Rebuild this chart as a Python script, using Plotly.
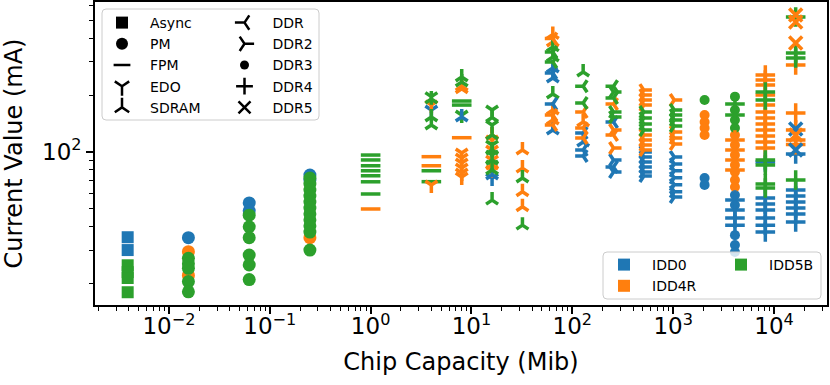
import plotly.graph_objects as go

# ─── Data (capacity in Mib, current in mA) ─────────────────────────────
# one entry per capacity column, one list of readings per IDD current
ASYNC_CAP = [0.0039]
ASYNC_IDD0 = [[35.1, 30.0]]
ASYNC_IDD4R = [[]]
ASYNC_IDD5B = [[24.9, 22.9, 21.3, 17.9]]

PM_CAP = [0.0156, 0.0625, 0.25]
PM_IDD0 = [[34.9], [53.4, 48.5], [75.2, 70.7]]
PM_IDD4R = [[29.4, 22.0], [], [34.9]]
PM_IDD5B = [[27.1, 25.4, 24.0, 20.4, 18.0],
            [46.0, 39.9, 34.9, 28.2, 25.0, 20.9],
            [72.4, 67.3, 62.5, 58.1, 54.0, 50.2, 46.7, 43.4, 40.3, 37.4, 30.0]]

FPM_CAP = [1, 4, 8]
FPM_IDD0 = [[], [], []]
FPM_IDD4R = [[49.6], [94.1, 84.2], [118.7]]
FPM_IDD5B = [[96.0, 90.4, 84.2, 79.2, 74.5, 69.2, 59.6], [79.2, 69.3], [186.0, 177.0]]

EDO_CAP = [4, 8, 16]
EDO_IDD0 = [[166.8], [], [72.5]]
EDO_IDD4R = [[177.0, 66.5], [98.4, 92.6, 87.1, 81.9, 77.1, 73.4], [115.4, 102.1, 90.3, 79.9]]
EDO_IDD5B = [[196.2], [156.7], [166.7, 138.7, 108.6, 96.0, 84.9]]

SDRAM_CAP = [4, 8, 16, 32, 64, 128]
SDRAM_IDD0 = [[], [153.0], [75.2], [], [278.6, 246.7, 130.4], [112.6]]
SDRAM_IDD4R = [[], [223.0, 216.0], [122.7, 84.9], [102.1, 81.8, 61.3, 51.0],
               [420, 383, 166.8, 147.4], [143.9]]
SDRAM_IDD5B = [[190.6, 153.0, 138.8], [249.6, 235.0], [152.0, 122.7, 102.1, 90.3, 79.9, 55.3],
               [72.5, 40.7], [361, 319, 202.7], [265.6]]

DDR_CAP = [64, 128, 256]
DDR_IDD0 = [[262.2, 179.4], [125.8, 102.1, 94.9], [143.9, 82.9]]
DDR_IDD4R = [[400, 156.8, 138.7], [162.6, 133.7, 118.3], [179.4, 122.7]]
DDR_IDD5B = [[339, 300], [223, 181.6], [223, 193]]

DDR2_CAP = [256, 512, 1024]
DDR2_IDD0 = [[90.3, 78.0], [99.6, 93.7, 88.2, 83.0, 78.0, 74.3],
             [93.7, 86.1, 79.1, 72.6, 66.7, 61.2, 57.5]]
DDR2_IDD4R = [[130.4, 104.7], [212.6, 200.3, 188.4, 177.1, 122.7, 115.4, 108.6, 102.1],
              [188.4, 127.3, 118.3, 109.9]]
DDR2_IDD5B = [[207.8, 162.6, 153], [162.6, 151.0, 140.4, 130.4], [166.8, 156.8, 147.4, 137.0]]

DDR3_CAP = [2048, 4096]
DDR3_IDD0 = [[72.5, 66.6], [58.9, 52.1, 36.0, 31.9, 29.3]]
DDR3_IDD4R = [[156.8, 143.9, 133.7, 122.7], [122.7, 108.6, 96.0, 84.9, 78.0, 70.7, 64.9]]
DDR3_IDD5B = [[188.4], [196.2, 166.8, 147.4, 133.7]]

DDR4_CAP = [4096, 8192, 16384]
DDR4_IDD0 = [[55.3, 49.0, 44.4, 40.7],
             [88.2, 56.7, 52.7, 49.0, 44.4, 40.7, 37.4],
             [97.2, 62.5, 58.1, 54.0, 50.2, 46.7, 42.3]]
DDR4_IDD4R = [[115.4, 102.1, 90.3, 79.9],
              [256, 240.6, 226.3, 200.4, 177.1, 162.6, 151.0, 140.4, 130.4, 121.2, 112.6, 104.7],
              [289, 160.6, 130.4, 115.4, 109.1]]
DDR4_IDD5B = [[179.4, 156.8], [207.8, 188.4, 90.3, 84.9, 67.3, 64.1], [520, 335, 315, 70.7]]

DDR5_CAP = [16384]
DDR5_IDD0 = [[132.1, 102.1]]
DDR5_IDD4R = [[533, 490, 378.6, 122.7]]
DDR5_IDD5B = [[]]

CURRENTS = ["IDD0", "IDD4R", "IDD5B"]
COLORS = {"IDD0": "#1f77b4", "IDD4R": "#ff7f0e", "IDD5B": "#2ca02c"}

TYPES = [
    # name, capacities, per-current readings, symbol, size, line width, legend size
    ("Async", ASYNC_CAP, [ASYNC_IDD0, ASYNC_IDD4R, ASYNC_IDD5B], "square", 12, 0, 12),
    ("PM", PM_CAP, [PM_IDD0, PM_IDD4R, PM_IDD5B], "circle", 13, 0, 12),
    ("FPM", FPM_CAP, [FPM_IDD0, FPM_IDD4R, FPM_IDD5B], "line-ew", 14, 3.5, 12),
    ("EDO", EDO_CAP, [EDO_IDD0, EDO_IDD4R, EDO_IDD5B], "y-down", 10, 3.5, 12),
    ("SDRAM", SDRAM_CAP, [SDRAM_IDD0, SDRAM_IDD4R, SDRAM_IDD5B], "y-up", 10, 3.5, 12),
    ("DDR", DDR_CAP, [DDR_IDD0, DDR_IDD4R, DDR_IDD5B], "y-left", 10, 3.5, 12),
    ("DDR2", DDR2_CAP, [DDR2_IDD0, DDR2_IDD4R, DDR2_IDD5B], "y-right", 10, 3.5, 12),
    ("DDR3", DDR3_CAP, [DDR3_IDD0, DDR3_IDD4R, DDR3_IDD5B], "circle", 10, 0, 9),
    ("DDR4", DDR4_CAP, [DDR4_IDD0, DDR4_IDD4R, DDR4_IDD5B], "cross-thin", 14, 3.5, 12),
    ("DDR5", DDR5_CAP, [DDR5_IDD0, DDR5_IDD4R, DDR5_IDD5B], "x-thin", 13, 3.5, 12),
]

XTICKS = [1e-2, 1e-1, 1e0, 1e1, 1e2, 1e3, 1e4]
XTICK_TEXT = ["10<sup>−2</sup>", "10<sup>−1</sup>", "10<sup>0</sup>", "10<sup>1</sup>",
              "10<sup>2</sup>", "10<sup>3</sup>", "10<sup>4</sup>"]
YTICKS = [1e2]
YTICK_TEXT = ["10<sup>2</sup>"]

# ─── Layout geometry (pixels) ──────────────────────────────────────────
W, H = 830, 385
L, R, T, B = 95, 3, 2, 80
PW, PH = W - L - R, H - T - B
FONT = "DejaVu Sans"


def px_x(x):
    return (x - L) / PW


def px_y(y):
    return (H - B - y) / PH


def rounded_box(x0, y0, x1, y1, r=4):
    """Rounded rectangle path in paper coords from pixel corners."""
    rx, ry = r / PW, r / PH
    a, b, c, d = px_x(x0), px_y(y1), px_x(x1), px_y(y0)
    return (f"M{a + rx},{b} L{c - rx},{b} Q{c},{b} {c},{b + ry} "
            f"L{c},{d - ry} Q{c},{d} {c - rx},{d} L{a + rx},{d} "
            f"Q{a},{d} {a},{d - ry} L{a},{b + ry} Q{a},{b} {a + rx},{b} Z")


fig = go.Figure()

# data points
for name, caps, readings, symbol, size, lw, _ in TYPES:
    for cur, series in zip(CURRENTS, readings):
        xs, ys = [], []
        for cap, vals in zip(caps, series):
            xs += [cap] * len(vals)
            ys += vals
        if not xs:
            continue
        fig.add_trace(go.Scatter(
            x=xs, y=ys, mode="markers", showlegend=False,
            marker=dict(symbol=symbol, size=size, color=COLORS[cur],
                        line=dict(width=lw, color=COLORS[cur])),
            hovertemplate=f"{name} {cur}: %{{y}} mA<extra></extra>",
        ))

# legend entries: memory types (two columns) and currents (two columns)
for i, (name, _, _, symbol, _, lw, lsize) in enumerate(TYPES):
    fig.add_trace(go.Scatter(
        x=[None], y=[None], mode="markers", name=name,
        legend="legend" if i < 5 else "legend2",
        marker=dict(symbol=symbol, size=lsize, color="black",
                    line=dict(width=min(lw, 2.5), color="black")),
    ))
for i, cur in enumerate(CURRENTS):
    fig.add_trace(go.Scatter(
        x=[None], y=[None], mode="markers", name=cur,
        legend="legend3" if i < 2 else "legend4",
        marker=dict(symbol="square", size=12, color=COLORS[cur]),
    ))

legend_common = dict(bgcolor="rgba(0,0,0,0)", borderwidth=0, itemwidth=46,
                     font=dict(family=FONT, size=14, color="black"),
                     xanchor="left", yanchor="top", traceorder="normal")

fig.update_layout(
    width=W, height=H,
    margin=dict(l=L, r=R, t=T, b=B, autoexpand=False),
    paper_bgcolor="white", plot_bgcolor="white",
    font=dict(family=FONT, color="black"),
    legend=dict(x=px_x(94), y=px_y(7), **legend_common),
    legend2=dict(x=px_x(216.5), y=px_y(7), **legend_common),
    legend3=dict(x=px_x(596), y=px_y(249), **legend_common),
    legend4=dict(x=px_x(713), y=px_y(249), **legend_common),
    shapes=[
        dict(type="path", xref="paper", yref="paper", layer="above",
             path=rounded_box(102, 9, 319, 120),
             fillcolor="rgba(255,255,255,0.8)", line=dict(color="#cccccc", width=1)),
        dict(type="path", xref="paper", yref="paper", layer="above",
             path=rounded_box(603, 252, 821, 299),
             fillcolor="rgba(255,255,255,0.8)", line=dict(color="#cccccc", width=1)),
    ],
    xaxis=dict(
        type="log", range=[-2.733, 4.525], automargin=False,
        tickmode="array", tickvals=XTICKS, ticktext=XTICK_TEXT,
        ticks="outside", ticklen=7, tickwidth=1.5, tickcolor="black",
        ticklabelstandoff=-7,
        minor=dict(ticks="outside", ticklen=4, tickwidth=1, tickcolor="black",
                   dtick="D1", showgrid=False),
        showgrid=False, zeroline=False,
        showline=True, mirror=True, linecolor="black", linewidth=1.6,
        tickfont=dict(family=FONT, size=23),
        title=dict(text="Chip Capacity (Mib)", font=dict(family=FONT, size=24), standoff=15),
    ),
    yaxis=dict(
        type="log", range=[1.185, 2.796], automargin=False,
        tickmode="array", tickvals=YTICKS, ticktext=YTICK_TEXT,
        ticks="outside", ticklen=7, tickwidth=1.5, tickcolor="black",
        minor=dict(ticks="outside", ticklen=4, tickwidth=1, tickcolor="black",
                   dtick="D1", showgrid=False),
        showgrid=False, zeroline=False,
        showline=True, mirror=True, linecolor="black", linewidth=1.6,
        tickfont=dict(family=FONT, size=23),
        title=dict(text="Current Value (mA)", font=dict(family=FONT, size=24), standoff=15),
    ),
)

# drop the page's default body margin so the figure sits at the window origin
fig.write_html("out.html", config={"displayModeBar": False},
               post_script="document.body.style.margin='0';")
